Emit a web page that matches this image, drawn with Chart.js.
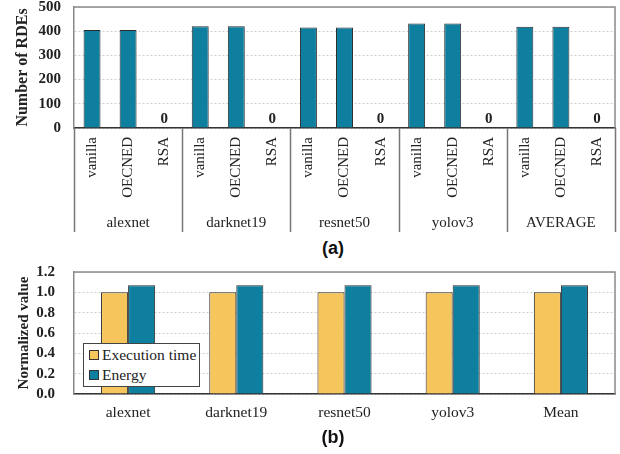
<!DOCTYPE html>
<html>
<head>
<meta charset="utf-8">
<script src="https://cdn.jsdelivr.net/npm/chart.js@4.4.1/dist/chart.umd.min.js"></script>
<style>
  body { margin: 0; background: #fff; }
  #wrap { position: relative; width: 620px; height: 454px; overflow: hidden; }
  canvas { position: absolute; left: 0; }
  .tag { position: absolute; width: 60px; text-align: center; font: bold 18px "Liberation Sans", Arial, sans-serif; color: #111; }
  #legendB { position: absolute; left: 83px; top: 343px; width: 115px; height: 42px; border: 1.5px solid #444;
             background: #fff; font: 15.5px "Liberation Serif", "Times New Roman", serif; color: #222; }
  #legendB div { position: absolute; left: 5px; height: 18px; line-height: 18px; white-space: nowrap; }
  #legendB span { display: inline-block; width: 8px; height: 8px; border: 1px solid #333; margin-right: 3px; vertical-align: 0px; }
</style>
</head>
<body>
<div id="wrap">
  <canvas id="chartA" width="620" height="236" style="top:0"></canvas>
  <div class="tag" style="left:303px; top:238px">(a)</div>
  <canvas id="chartB" width="620" height="178" style="top:252px"></canvas>
  <div class="tag" style="left:303px; top:427px">(b)</div>
  <div id="legendB">
    <div style="top:2px"><span style="background:#F6C55C"></span>Execution time</div>
    <div style="top:22px"><span style="background:#0F7F9F"></span>Energy</div>
  </div>
</div>
<script>
// (a) number of RDEs per model and variant
const models = ['alexnet', 'darknet19', 'resnet50', 'yolov3', 'AVERAGE'];
const variants = ['vanilla', 'OECNED', 'RSA'];
const rdeVanilla = [405, 420, 415, 432, 418];
const rdeOecned = [405, 420, 415, 432, 418];
const rdeRsa = [0, 0, 0, 0, 0];
const rdeTicks = [0, 100, 200, 300, 400, 500];

// (b) normalized execution time and energy
const benchNames = ['alexnet', 'darknet19', 'resnet50', 'yolov3', 'Mean'];
const execTime = [1.0, 1.0, 1.0, 1.0, 1.0];
const energy = [1.07, 1.07, 1.07, 1.07, 1.07];
const normTicks = [0, 0.2, 0.4, 0.6, 0.8, 1.0, 1.2];

const TEAL = '#0F7F9F';
const YELLOW = '#F6C55C';
const SERIF = '"Liberation Serif", "Times New Roman", serif';

// flat list for the two-level axis
const flatLabels = [];
const flatValues = [];
models.forEach((m, i) => {
    flatLabels.push(variants[0], variants[1], variants[2]);
    flatValues.push(rdeVanilla[i], rdeOecned[i], rdeRsa[i]);
});

// frame around the plot area
const frame = {
    id: 'frame',
    afterDatasetsDraw(chart) {
        const { ctx, chartArea: a } = chart;
        ctx.save();
        ctx.strokeStyle = '#8a8a8a';
        ctx.lineWidth = 1.5;
        ctx.beginPath();
        ctx.moveTo(a.left, a.top);
        ctx.lineTo(a.right, a.top);
        ctx.lineTo(a.right, a.bottom);
        ctx.stroke();
        ctx.restore();
    }
};

// group separators + group names + zero labels for chart (a)
const groupAxis = {
    id: 'groupAxis',
    afterDraw(chart) {
        const { ctx, chartArea: a } = chart;
        const x = chart.scales.x;
        const y = chart.scales.y;
        const step = x.getPixelForValue(1) - x.getPixelForValue(0);
        ctx.save();
        ctx.strokeStyle = '#777';
        ctx.lineWidth = 1.5;
        for (let g = 0; g <= models.length; g++) {
            const px = Math.round(x.getPixelForValue(g * 3) - step / 2) + 0.5;
            ctx.beginPath();
            ctx.moveTo(px, a.bottom);
            ctx.lineTo(px, a.bottom + 104);
            ctx.stroke();
        }
        ctx.fillStyle = '#222';
        ctx.textAlign = 'center';
        ctx.textBaseline = 'middle';
        ctx.font = '15px ' + SERIF;
        models.forEach((m, g) => {
            ctx.fillText(m, x.getPixelForValue(g * 3 + 1), a.bottom + 95);
        });
        ctx.font = 'bold 15px ' + SERIF;
        flatValues.forEach((v, i) => {
            if (v === 0) ctx.fillText('0', x.getPixelForValue(i), y.getPixelForValue(0) - 9);
        });
        ctx.restore();
    }
};

// fixed axis sizes so both plots line up with the reference
const fixY = s => { s.width = 74; s.paddingTop = 0; s.paddingBottom = 0; };
const fixX = h => s => { s.height = h; s.paddingLeft = 0; s.paddingRight = 0; s.paddingTop = 0; s.paddingBottom = 0; };

new Chart(document.getElementById('chartA'), {
    type: 'bar',
    data: {
        labels: flatLabels,
        datasets: [{
            data: flatValues,
            backgroundColor: TEAL,
            borderColor: '#2b2b2b',
            borderWidth: 1,
            barPercentage: 0.47,
            categoryPercentage: 1
        }]
    },
    options: {
        responsive: false,
        animation: false,
        layout: { padding: { top: 7, right: 5, left: 0, bottom: 0 } },
        scales: {
            x: {
                grid: { display: false, drawTicks: false },
                border: { color: '#333', width: 1.5 },
                ticks: {
                    font: { family: SERIF, size: 15 },
                    color: '#222',
                    minRotation: 90,
                    maxRotation: 90,
                    padding: 9,
                    autoSkip: false
                },
                afterFit: fixX(108)
            },
            y: {
                min: 0,
                max: 500,
                afterBuildTicks: s => { s.ticks = rdeTicks.map(v => ({ value: v })); },
                ticks: { font: { family: SERIF, size: 15, weight: 'bold' }, color: '#222', padding: 13, autoSkip: false },
                grid: { color: '#cfcfcf', drawTicks: false },
                border: { color: '#8a8a8a', width: 1.5, dash: [2, 2] },
                title: {
                    display: true,
                    text: 'Number of RDEs',
                    font: { family: SERIF, size: 16, weight: 'bold' },
                    color: '#222',
                    padding: { top: 13, bottom: 0 }
                },
                afterFit: fixY
            }
        },
        plugins: { legend: { display: false }, tooltip: { enabled: false } }
    },
    plugins: [frame, groupAxis]
});

new Chart(document.getElementById('chartB'), {
    type: 'bar',
    data: {
        labels: benchNames,
        datasets: [{
            label: 'Execution time',
            data: execTime,
            backgroundColor: YELLOW,
            borderColor: '#2b2b2b',
            borderWidth: 1,
            barPercentage: 1,
            categoryPercentage: 0.5
        }, {
            label: 'Energy',
            data: energy,
            backgroundColor: TEAL,
            borderColor: '#2b2b2b',
            borderWidth: 1,
            barPercentage: 1,
            categoryPercentage: 0.5
        }]
    },
    options: {
        responsive: false,
        animation: false,
        layout: { padding: { top: 20, right: 5, left: 0, bottom: 0 } },
        scales: {
            x: {
                grid: { display: false, drawTicks: false },
                border: { color: '#333', width: 1.5 },
                ticks: { font: { family: SERIF, size: 15.5 }, color: '#222', padding: 10 },
                afterFit: fixX(36)
            },
            y: {
                min: 0,
                max: 1.2,
                afterBuildTicks: s => { s.ticks = normTicks.map(v => ({ value: v })); },
                ticks: {
                    font: { family: SERIF, size: 15, weight: 'bold' },
                    color: '#222',
                    padding: 19,
                    autoSkip: false,
                    callback: v => v.toFixed(1)
                },
                grid: { color: '#cfcfcf', drawTicks: false },
                border: { color: '#8a8a8a', width: 1.5, dash: [2, 2] },
                title: {
                    display: true,
                    text: 'Normalized value',
                    font: { family: SERIF, size: 15, weight: 'bold' },
                    color: '#222',
                    padding: { top: 15, bottom: 0 }
                },
                afterFit: fixY
            }
        },
        plugins: { legend: { display: false }, tooltip: { enabled: false } }
    },
    plugins: [frame]
});
</script>
</body>
</html>
